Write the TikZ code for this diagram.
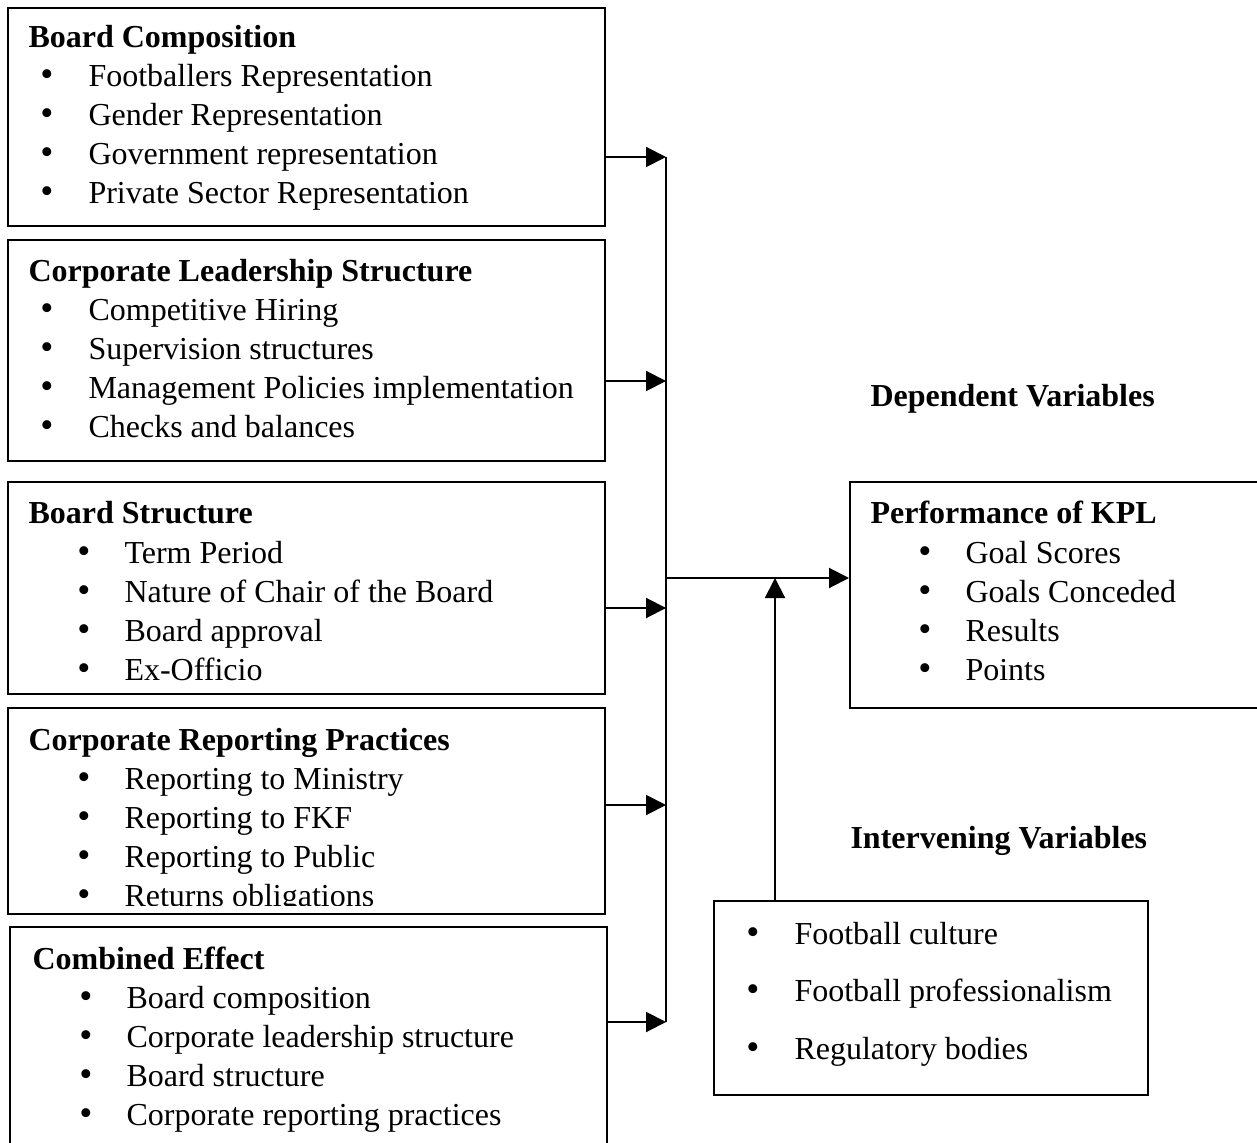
\documentclass[tikz,border=0pt]{standalone}
\usepackage{fontspec}
\setmainfont{Liberation Serif}
\usetikzlibrary{arrows.meta, fit}

\tikzset{
    box/.style={draw, line width=0.75pt, inner sep=0pt},
    head/.style={anchor=base west, inner sep=0pt, font=\fontsize{12}{14}\selectfont\bfseries},
    item/.style={anchor=base west, inner sep=0pt},
    dot/.style={anchor=base, inner sep=0pt, font=\fontsize{14}{14}\selectfont},
    arr/.style={line width=0.75pt, -{Triangle[length=7.5pt, width=7.5pt]}}
}

\begin{document}
\begin{tikzpicture}[x=0.375pt, y=-0.375pt, font=\fontsize{12}{14}\selectfont]
        \clip (0,0) rectangle (1257,1143);

        % independent variables
        \node[box, fit={(8,8) (605,226)}] (bcomp) {};
        \node[head] (bcomp-h) at (28,48) {Board Composition};
        \foreach \t [count=\i] in {Footballers Representation, Gender Representation, Government representation, Private Sector Representation} {
            \node[dot] (bcomp-d\i) at (47,{48+39*\i}) {\textbullet};
            \node[item] (bcomp-\i) at (88,{48+39*\i}) {\t};
        }

        \node[box, fit={(8,240) (605,461)}] (lead) {};
        \node[head] (lead-h) at (28,282) {Corporate Leadership Structure};
        \foreach \t [count=\i] in {Competitive Hiring, Supervision structures, Management Policies implementation, Checks and balances} {
            \node[dot] (lead-d\i) at (47,{282+39*\i}) {\textbullet};
            \node[item] (lead-\i) at (88,{282+39*\i}) {\t};
        }

        \node[box, fit={(8,482) (605,694)}] (bstr) {};
        \node[head] (bstr-h) at (28,524) {Board Structure};
        \foreach \t [count=\i] in {Term Period, Nature of Chair of the Board, Board approval, Ex-Officio} {
            \node[dot] (bstr-d\i) at (84,{524+39*\i}) {\textbullet};
            \node[item] (bstr-\i) at (124,{524+39*\i}) {\t};
        }

        \node[box, fit={(8,708) (605,914)}] (rep) {};
        \begin{scope}
            \clip (8,708) rectangle (605,905);
            \node[head] (rep-h) at (28,750) {Corporate Reporting Practices};
            \foreach \t [count=\i] in {Reporting to Ministry, Reporting to FKF, Reporting to Public, Returns obligations} {
                \node[dot] (rep-d\i) at (84,{750+39*\i}) {\textbullet};
                \node[item] (rep-\i) at (124,{750+39*\i}) {\t};
            }
        \end{scope}

        \node[box, fit={(10,927) (607,1150)}] (comb) {};
        \node[head] (comb-h) at (32,969) {Combined Effect};
        \foreach \t [count=\i] in {Board composition, Corporate leadership structure, Board structure, Corporate reporting practices} {
            \node[dot] (comb-d\i) at (86,{969+39*\i}) {\textbullet};
            \node[item] (comb-\i) at (126,{969+39*\i}) {\t};
        }

        % dependent variables
        \node[head] (dep) at (870,407) {Dependent Variables};
        \node[box, fit={(850,482) (1265,708)}] (perf) {};
        \node[head] (perf-h) at (870,524) {Performance of KPL};
        \foreach \t [count=\i] in {Goal Scores, Goals Conceded, Results, Points} {
            \node[dot] (perf-d\i) at (925,{524+39*\i}) {\textbullet};
            \node[item] (perf-\i) at (965,{524+39*\i}) {\t};
        }

        % intervening variables
        \node[head] (intv) at (850,848) {Intervening Variables};
        \node[box, fit={(714,901) (1148,1095)}] (interv) {};
        \foreach \t [count=\i] in {Football culture, Football professionalism, Regulatory bodies} {
            \node[dot] (interv-d\i) at (753,{944+57.5*(\i-1)}) {\textbullet};
            \node[item] (interv-\i) at (794,{944+57.5*(\i-1)}) {\t};
        }

        % connectors
        \coordinate (j1) at (666,157);
        \coordinate (j2) at (666,381);
        \coordinate (j3) at (666,608);
        \coordinate (j4) at (666,805);
        \coordinate (j5) at (666,1022);
        \coordinate (jm) at (666,578);
        \coordinate (jv) at (775,578);

        \draw[line width=0.75pt] (j1) -- (j5);
        \draw[arr] (bcomp.east |- j1) -- (j1);
        \draw[arr] (lead.east |- j2) -- (j2);
        \draw[arr] (bstr.east |- j3) -- (j3);
        \draw[arr] (rep.east |- j4) -- (j4);
        \draw[arr] (comb.east |- j5) -- (j5);
        \draw[arr] (jm) -- (perf.west |- jm);
        \draw[arr] (interv.north -| jv) -- (jv);
    \end{tikzpicture}
\end{document}
